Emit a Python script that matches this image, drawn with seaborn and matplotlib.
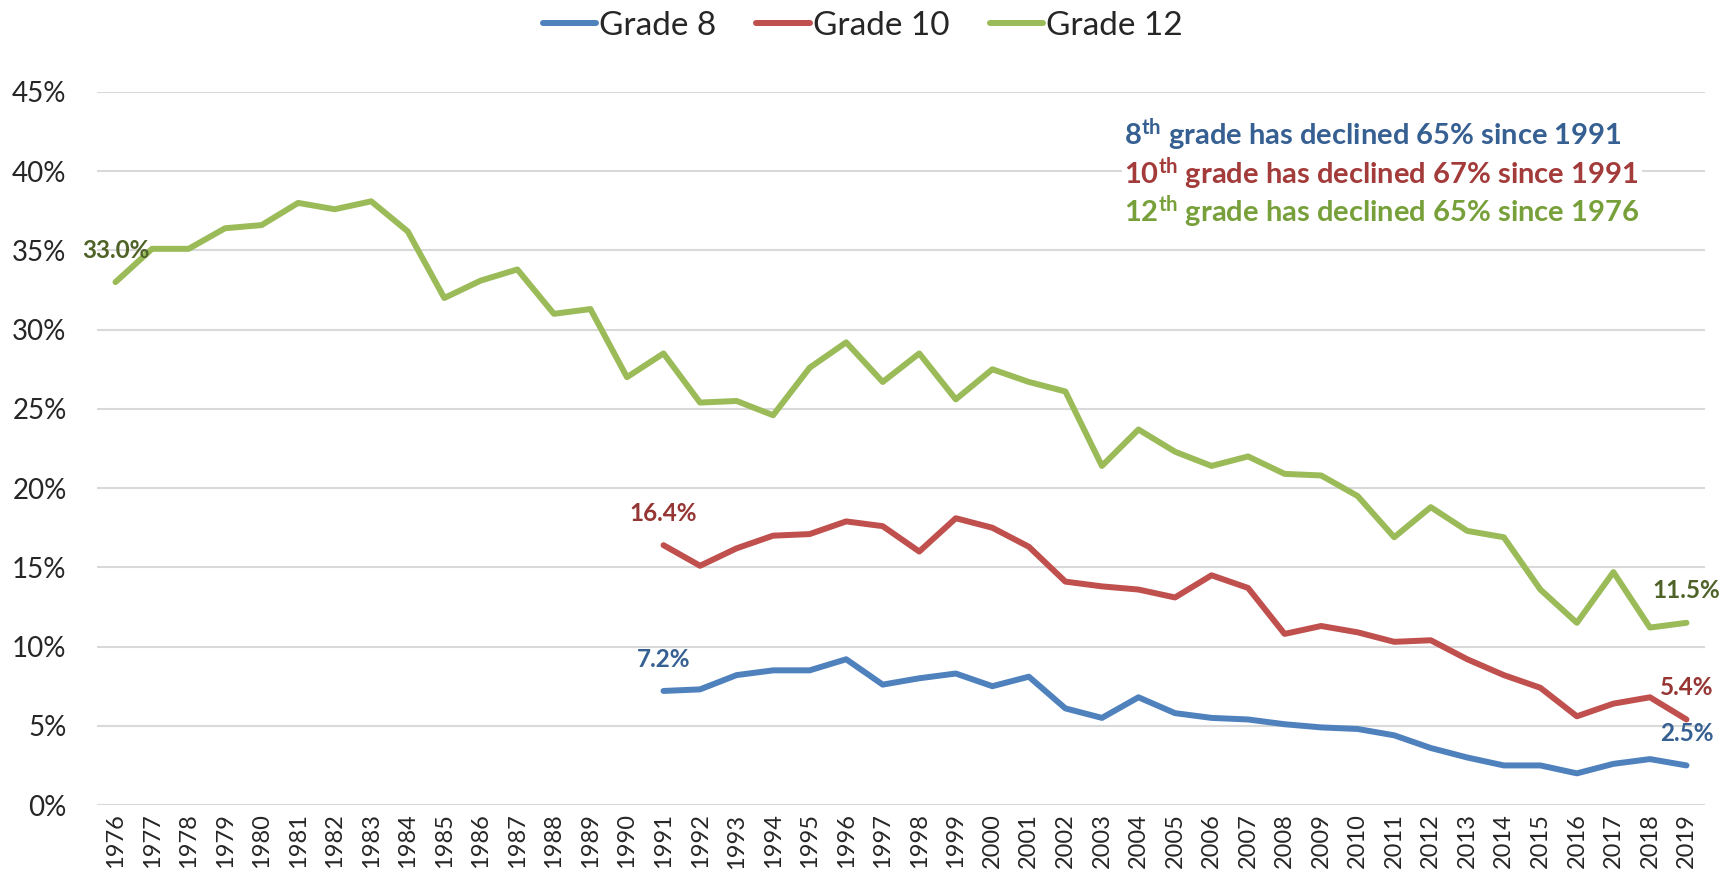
import numpy as np
import pandas as pd
import seaborn as sns
import matplotlib.pyplot as plt

# values (percent)
years = list(range(1976, 2020))
grade8 = [np.nan] * 15 + [7.2, 7.3, 8.2, 8.5, 8.5, 9.2, 7.6, 8.0, 8.3, 7.5, 8.1, 6.1, 5.5, 6.8,
                          5.8, 5.5, 5.4, 5.1, 4.9, 4.8, 4.4, 3.6, 3.0, 2.5, 2.5, 2.0, 2.6, 2.9, 2.5]
grade10 = [np.nan] * 15 + [16.4, 15.1, 16.2, 17.0, 17.1, 17.9, 17.6, 16.0, 18.1, 17.5, 16.3, 14.1, 13.8, 13.6,
                           13.1, 14.5, 13.7, 10.8, 11.3, 10.9, 10.3, 10.4, 9.2, 8.2, 7.4, 5.6, 6.4, 6.8, 5.4]
grade12 = [33.0, 35.1, 35.1, 36.4, 36.6, 38.0, 37.6, 38.1, 36.2, 32.0,
           33.1, 33.8, 31.0, 31.3, 27.0, 28.5, 25.4, 25.5, 24.6, 27.6,
           29.2, 26.7, 28.5, 25.6, 27.5, 26.7, 26.1, 21.4, 23.7, 22.3,
           21.4, 22.0, 20.9, 20.8, 19.5, 16.9, 18.8, 17.3, 16.9, 13.6,
           11.5, 14.7, 11.2, 11.5]
series_names = ["Grade 8", "Grade 10", "Grade 12"]
y_ticks = [0, 5, 10, 15, 20, 25, 30, 35, 40, 45]
y_labels = ["0%", "5%", "10%", "15%", "20%", "25%", "30%", "35%", "40%", "45%"]
notes = [("8", " grade has declined 65% since 1991"),
         ("10", " grade has declined 67% since 1991"),
         ("12", " grade has declined 65% since 1976")]

line_colors = ["#4F81BD", "#C0504D", "#9BBB59"]
label_colors = ["#366092", "#963634", "#4F6228"]
note_colors = ["#366092", "#A33B3A", "#77A03A"]

df = pd.DataFrame({"year": years, "Grade 8": grade8, "Grade 10": grade10, "Grade 12": grade12})
long = df.melt(id_vars="year", var_name="grade", value_name="pct")

sns.set_style("white")
plt.rcParams['font.family'] = ['Lato', 'DejaVu Sans']
plt.rcParams['mathtext.fontset'] = 'custom'
plt.rcParams['mathtext.bf'] = 'Lato:bold'
plt.rcParams['mathtext.rm'] = 'Lato'

fig = plt.figure(figsize=(17.36, 8.76), dpi=100)
ax = fig.add_axes([0.056, 0.081, 0.926, 0.814])

sns.lineplot(data=long, x="year", y="pct", hue="grade", hue_order=series_names,
             palette=line_colors, linewidth=4.3, ax=ax, legend=False)

ax.set_xlim(years[0] - 0.5, years[-1] + 0.5)
ax.set_ylim(0, 45)
ax.set_xticks(years)
ax.set_xticklabels([str(y) for y in years], rotation=90, fontsize=17)
ax.set_yticks(y_ticks)
ax.set_yticklabels(y_labels, fontsize=20)
ax.tick_params(axis='x', length=0, pad=6)
ax.tick_params(axis='y', length=0, pad=22)
ax.grid(axis='y', color='#D9D9D9', linewidth=1.5)
ax.set_axisbelow(True)
for s in ax.spines.values():
    s.set_visible(False)
ax.set_xlabel("")
ax.set_ylabel("")

# first / last value labels
for name, col in zip(series_names, label_colors):
    vals = df[["year", name]].dropna()
    for _, row in vals.iloc[[0, -1]].iterrows():
        ax.annotate(f"{row[name]:.1f}%", (row["year"], row[name]), xytext=(0, 23),
                    textcoords="offset points", ha="center", va="center",
                    fontsize=17.5, fontweight="bold", color=col)

# annotation block
for i, ((num, rest), col) in enumerate(zip(notes, note_colors)):
    ax.text(0.639, 0.940 - i * 0.054, r"$\mathbf{" + num + r"^{th}}$" + rest,
            transform=ax.transAxes, ha="left", va="center", fontsize=21,
            fontweight="bold", color=col,
            bbox=dict(facecolor="white", edgecolor="none", pad=2))

handles = [plt.Line2D([], [], color=c, linewidth=4.3) for c in line_colors]
fig.legend(handles, series_names, loc="upper center", bbox_to_anchor=(0.497, 1.022), ncol=3,
           frameon=False, fontsize=24, handlelength=1.6, handletextpad=0.1, columnspacing=1.2)

fig.savefig("out.png", dpi=100)
